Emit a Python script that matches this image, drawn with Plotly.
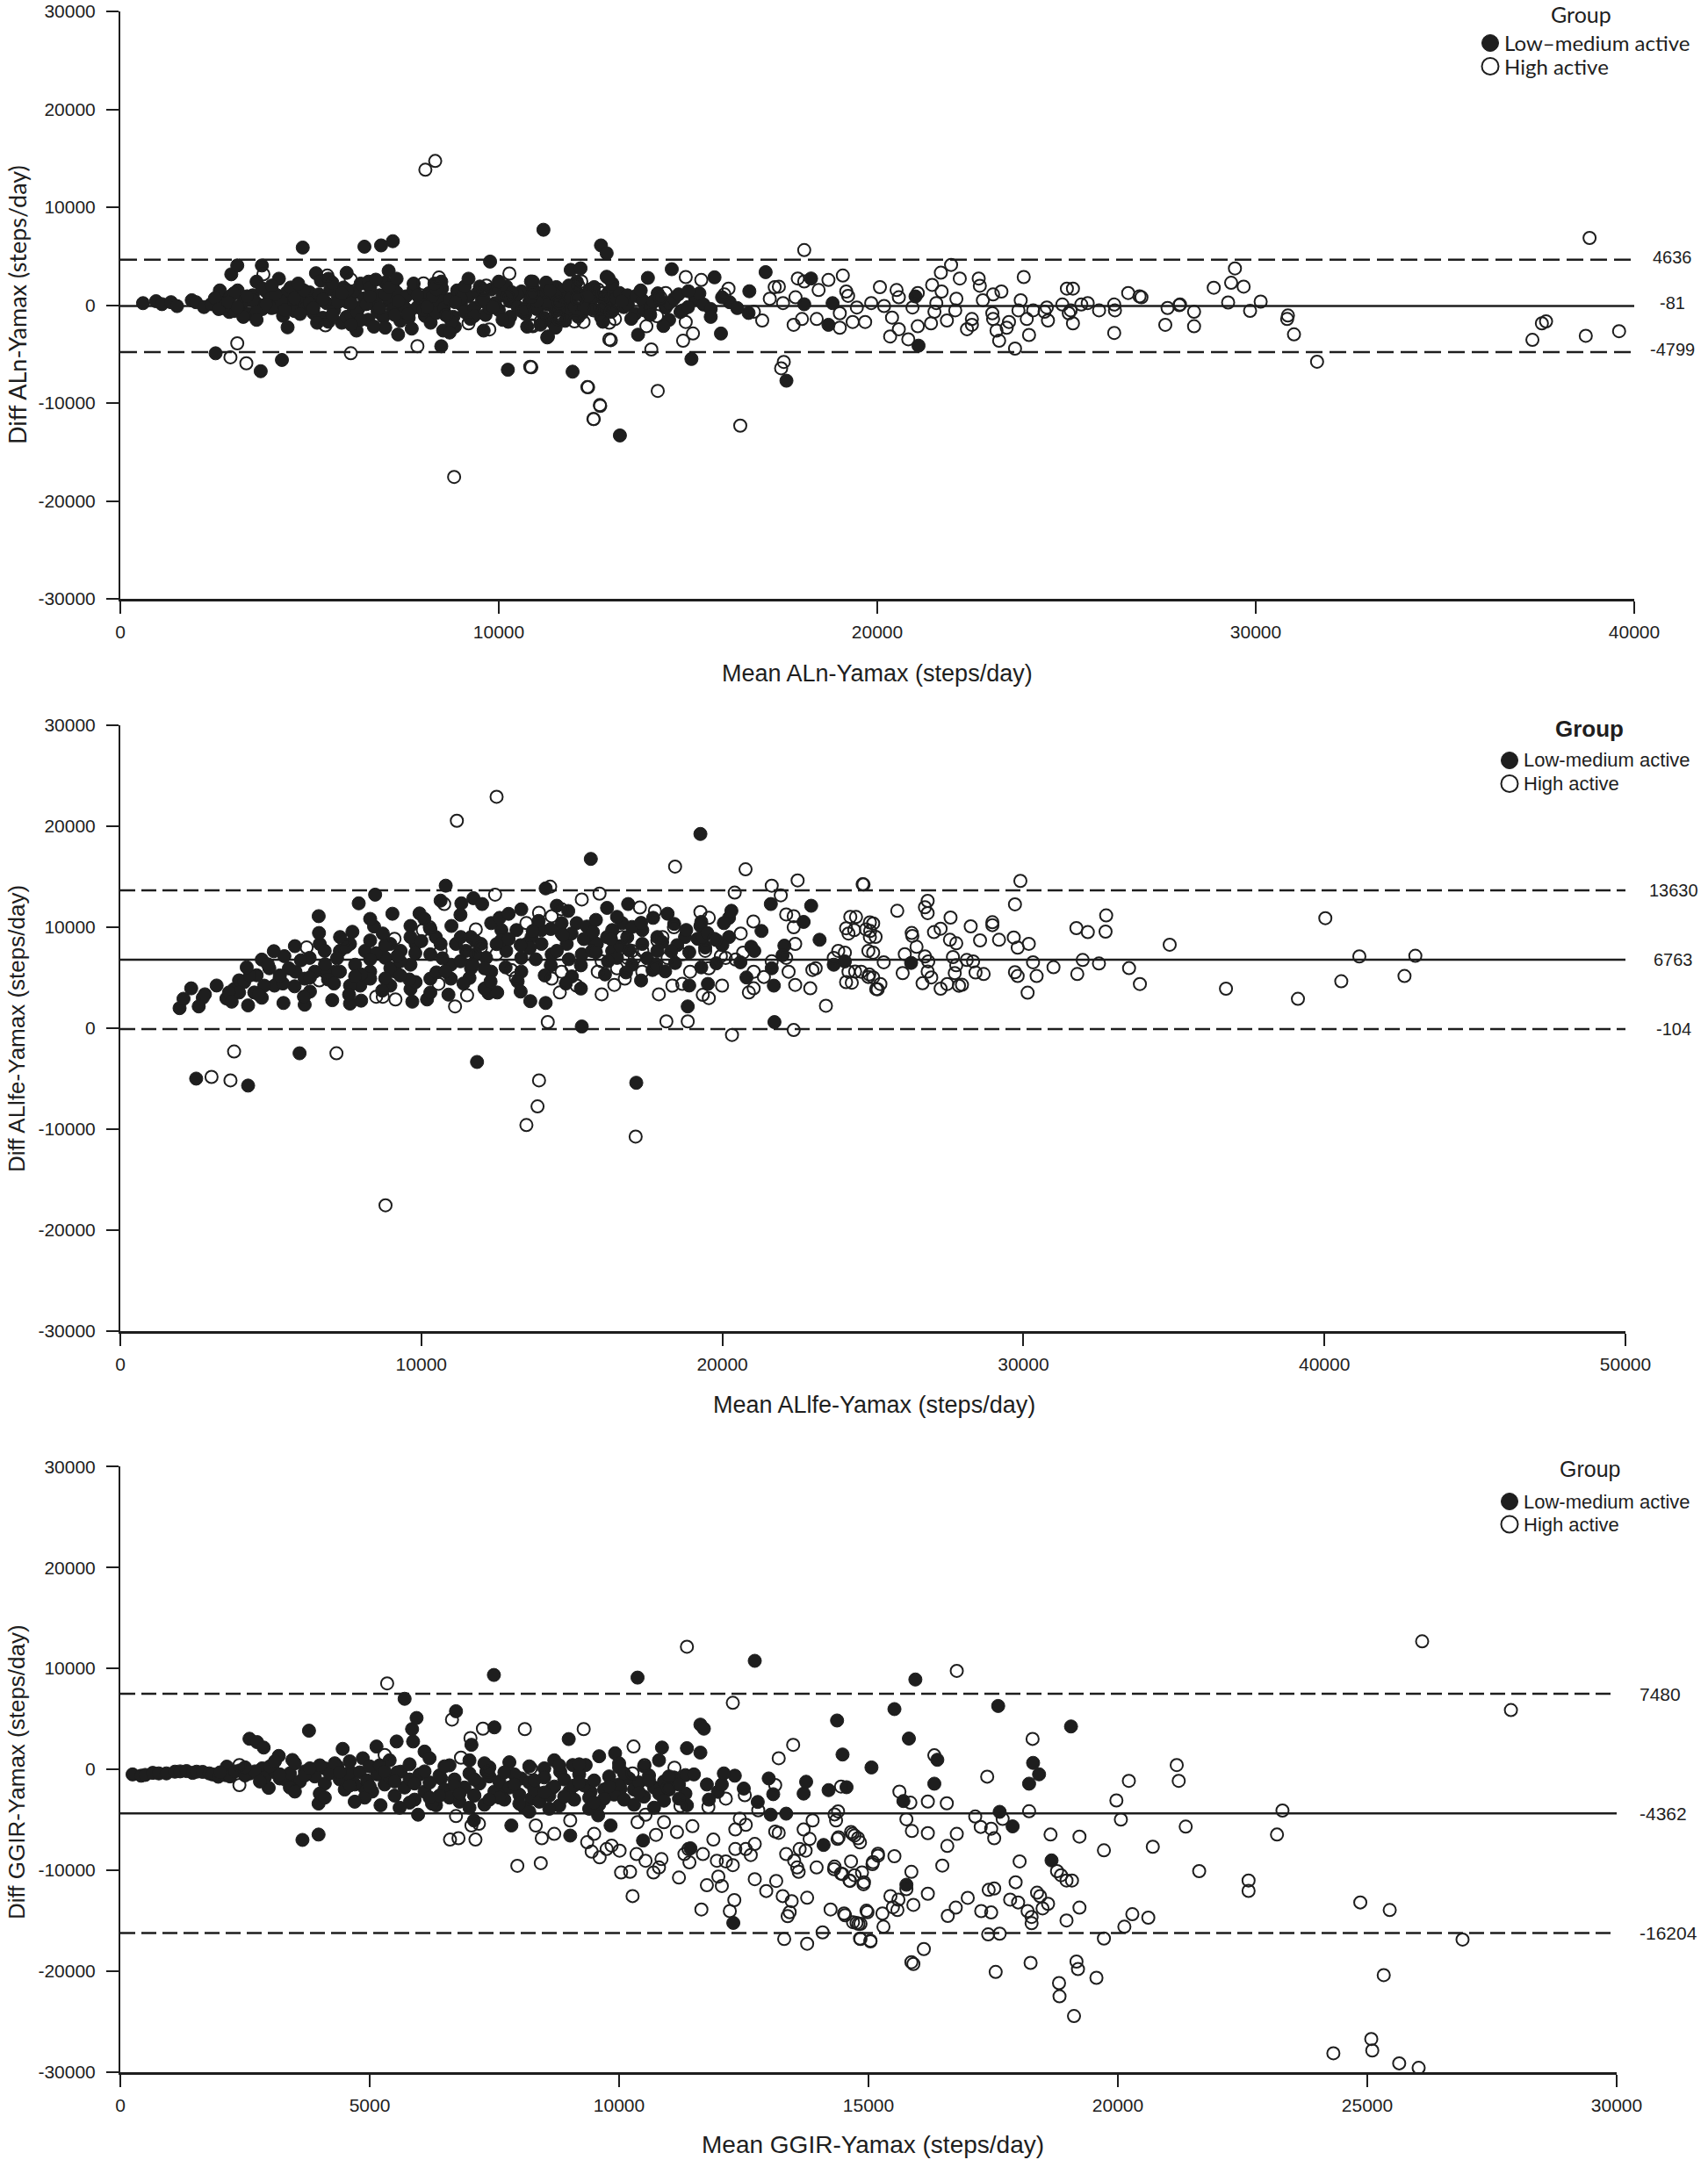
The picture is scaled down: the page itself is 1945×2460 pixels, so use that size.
import plotly.graph_objects as go

# ---------------- DATA ----------------
# Panel 1: Mean ALn-Yamax vs Diff ALn-Yamax (steps/day)
P1_LOW = [
 (600,200),(944,400),(1100,100),(1340,300),(1500,-100),(1888,500),(2000,300),(2210,-200),(2400,100),(2600,600),(2630,1500),(2700,-300),(2880,-700),(2900,900),(2932,3150),(3000,-600),(3090,4050),(3100,1500),(3240,-700),(3250,400),(3400,-900),(3500,1000),(3600,2400),(3600,200),(3740,4050),(3750,-400),(3850,1400),(3950,600),(4100,-200),(4190,2700),(4200,900),(4300,-1100),(4400,1300),(4420,-2270),(4500,300),(4600,-600),(4700,1100),(4800,500),(4900,-300),(5000,1300),(5100,-800),(5170,3260),(5200,700),(5300,2500),(5350,-1300),(5450,200),(5500,2700),(5550,1600),(5650,-500),(5750,900),(5850,-1800),(5900,1800),(5980,3300),(5980,-1200),(6000,300),(6100,-1000),(6200,1300),(6240,-2600),(6300,-300),(6350,2200),(6450,700),(6550,-1500),(6560,2400),(6600,1800),(6700,100),(6800,-700),(6850,1000),(6950,-1200),(7000,2300),(7000,-2300),(7090,3500),(7100,500),(7200,2100),(7200,-400),(7300,1300),(7340,-3000),(7400,-1600),(7450,300),(7550,900),(7620,-1300),(7650,-600),(7750,1600),(7850,-200),(7950,700),(8000,800),(8050,-1100),(8150,1200),(8200,-1800),(8250,300),(8350,-800),(8450,1000),(8480,400),(8480,2400),(8530,-2600),(8550,-300),(8700,600),(8800,-1200),(8840,-2200),(8900,1500),(9000,100),(9100,-700),(9200,900),(9350,-300),(9450,1300),(9550,400),(9650,-1000),(9800,1600),(9900,200),(9980,1800),(10000,-500),(10100,1000),(10200,1900),(10290,400),(10300,-1200),(10400,600),(10500,-200),(10600,1400),(10700,-900),(10800,300),(10850,2420),(10900,1700),(10900,2400),(11000,-400),(11070,1240),(11100,900),(11200,-1300),(11280,1700),(11300,500),(11300,60),(11400,1200),(11410,-1720),(11500,-600),(11520,1840),(11600,200),(11700,1500),(11740,650),(11800,-1000),(11850,-530),(11900,700),(11900,3600),(12000,-200),(12060,2400),(12070,1240),(12100,1100),(12200,-800),(12300,350),(12400,1600),(12500,-400),(12520,1840),(12600,900),(12700,-1200),(12740,-530),(12800,200),(12900,1300),(12960,650),(13000,-600),(13100,700),(13190,1240),(13300,-200),(13400,1000),(13410,60),(13600,-900),(13630,950),(13800,500),(13850,-530),(14000,-300),(14080,350),(14200,1200),(14410,-240),(14500,200),(14630,650),(14800,-700),(14860,-530),(15190,650),(15200,600),(15410,60),(15600,-400),(16100,300),(16600,-800),
 (2500,700),(2750,-100),(3000,1200),(3250,-1200),(3500,500),(3750,1700),(4000,-300),(4250,400),(4500,1800),(4750,-900),(5000,200),(5250,1100),(5500,-1700),(5750,300),(6000,1500),(6250,-700),(6500,100),(6750,2600),(7000,1100),(7250,-1000),(7500,-200),(7750,2200),(8000,-500),(8250,900),(8500,1700),(8750,-1700),(9000,700),(9250,-1400),(9500,1900),(9750,-300),(10000,2400),(10250,-1700),(10500,1100),(10750,-2200),(11000,400),(11250,2300),(11500,1000),(11750,-1600),(12000,1900),(12250,-300),(12500,800),(12750,-1700),(13000,2200),(13250,400),(13500,-1400),(13750,1500),(14000,-1000),(14250,600),(14500,-1500),(14750,1100),(15000,-200),(15300,1200),(15600,-1200),(15900,800),(16300,-300),
 (2600,-400),(2850,300),(3100,-200),(3350,900),(3600,-700),(3850,100),(4100,1100),(4350,-500),(4600,700),(4850,1500),(5100,-300),(5350,600),(5600,-1000),(5850,1200),(6100,200),(6350,-1500),(6600,900),(6850,-300),(7100,1800),(7350,400),(7600,-900),(7850,1000),(8100,-200),(8350,1600),(8600,-1000),(8850,300),(9100,1900),(9350,-1100),(9600,600),(9850,-200),(10100,-1500),(10350,1300),(10600,-600),(10850,800),(11100,-2000),(11350,1500),(11600,-400),(11850,2000),(12100,-1200),(12350,900),
 (5600,2300),(6100,-2000),(6700,-2200),(7300,2700),(7700,-2400),(8300,2200),(8700,-2800),(9200,2700),(9600,-2600),(5200,-1800),(4700,2200),(4000,2000),(3600,-1500),
 (2518,-4920),(3710,-6750),(4270,-5600),(4820,5880),(6450,5970),(6890,6100),(7200,6530),(8480,-4200),(9770,4450),(10240,-6600),(11180,7700),(11280,-3300),(11500,-2300),(11950,-6800),(12700,6100),(12850,5300),(12850,2900),(12160,3760),(12900,2750),(13940,2780),(14570,3670),(15700,2840),(17050,3370),(18250,2720),(16620,1420),(15010,1420),(11300,-3200),(13200,-13310),(13680,-3020),(14350,-2130),(15090,-5500),(15870,-2900),(17600,-7720),(18710,-2010),(18820,200),(21010,890),(21090,-4140),(18070,90),
]
P1_HIGH = [
 (8060,13830),(8320,14720),(8820,-17550),(2910,-5330),(3090,-3900),(3330,-5940),(3780,3150),(6090,-4920),(6090,2620),(7850,-4190),(8010,2220),(8420,2820),(8610,-1050),(9200,-1860),(9750,-2480),(9580,1600),(10280,3230),(10860,-6350),(10860,-2070),(11110,-1660),(11580,-1240),(12000,-1660),(12100,2000),(12360,-8390),(12510,-11640),(12670,-10210),(12920,-3500),(12620,1600),(12770,-230),(5420,-2070),(5470,3020),
 (9670,2000),(10240,830),(10680,-530),(10900,1200),(11270,-1020),(11590,240),(12070,630),(12500,-530),(12760,830),(12920,-1800),
 (18070,5620),(10830,-6300),(12340,-8370),(12680,-10300),(12500,-11630),(14200,-8760),(16380,-12310),(12960,-3580),(14030,-4530),(14870,-3640),(15130,-2900),(14940,-1720),(17530,-5800),(17460,-6450),(14940,2870),(15350,2570),(16070,1690),(15960,1090),(14410,1240),(14270,800),(12180,2420),(12740,1240),(12680,-240),(13070,-1420),(12960,-680),(12240,-1720),(11570,-1420),(10900,-2160),(13900,-2160),(14180,-1130),(17160,650),(17290,1840),(17400,1890),(17900,2720),(18070,2420),(18710,2570),(19090,3020),(18450,1540),(19180,1390),(19230,950),(17840,800),(17510,210),(16740,-680),(16960,-1570),(17790,-2010),(18010,-1420),(18400,-1420),(19010,-2310),(19350,-1720),(19680,-1720),(19010,-830),(19460,-240),(19840,210),(20070,1840),(20180,-90),(20390,-1270),(20510,1540),(20570,800),(20340,-3200),(20570,-2460),(20820,-3490),(20930,-240),(21070,1240),(21070,-2160),(21420,-1860),(21450,2070),(21680,3310),(21950,4110),(21700,1390),(21560,210),(21510,-680),(21840,-1570),(22060,-530),(22090,650),(22180,2720),(22500,-1420),(22500,-2010),(22370,-2460),(22680,2720),(22710,1980),(22790,500),(23060,1090),(23280,1390),(23040,-830),(23060,-1420),(23150,-2600),(23220,-3640),(23420,-2310),(23480,-1720),(23640,-4440),(23730,-530),(23790,500),(23870,2870),(23950,-1420),(24010,-3050),(24120,-530),(24480,-240),(24510,-1570),(24420,-680),(24890,60),(25010,1690),(25170,1690),(25060,-830),(25170,-1860),(25110,-530),(25390,60),(25560,210),(25860,-530),(26260,60),(26280,-530),(26260,-2840),(26630,1240),(26930,890),(27670,-290),(27610,-2010),(28000,60),
 (38820,6860),(29450,3750),(28890,1780),(29350,2280),(29680,1890),(29270,270),(30130,360),(29850,-590),(27980,0),(28370,-680),(28370,-2160),(30850,-1060),(30830,-1420),(31010,-2990),(26980,800),(37670,-1660),(37560,-1860),(37310,-3550),(38720,-3130),(39600,-2660),(31620,-5780),
]

# Panel 2: Mean ALlfe-Yamax vs Diff ALlfe-Yamax (steps/day)
P2_LOW = [
 (1969,1960),(2100,2890),(2355,3920),(2520,-5020),(2740,2990),(2810,3330),(2605,2130),(3525,2920),(3780,3850),(3945,4710),(4245,2230),(4245,-5710),(4700,6770),(4530,5220),(4950,5910),(4700,2990),(5420,2470),(5450,7110),(5790,4120),(5820,5570),(6125,2300),(5955,-2510),(6590,11070),(6625,8320),(6790,7630),(7040,2750),(7295,5570),(7630,2410),(7710,9520),(7920,12340),(7970,4190),(8465,13200),(8430,10040),(8720,9350),(9040,11310),(9640,10100),(9940,11340),(10190,2820),(9140,5570),(9640,3850),(10640,12610),(10810,14090),(11330,12340),(11730,12850),(12020,12270),(11600,4950),(11850,-3370),(12230,3440),(12520,3510),(13320,11750),(13620,2650),(14130,2470),(14130,13820),(14880,11580),(15330,140),(15630,16740),(16170,11890),(16870,12270),(17140,-5430),(18180,11310),(18850,2130),(19270,19210),(19270,10100),(20220,10900),(21610,12270),(21730,580),(22950,12100),(23230,8730),(23700,6260),(21710,4190),(20960,8040),(19520,4360),(18430,6430),(17680,5740),(16670,10380),(16170,9000),(15670,8730),(15160,10380),(14660,9350),(13660,9000),(13160,9690),(12660,9690),(12320,10380),(11650,9000),(11150,8320),(10480,9000),(9810,8320),(9310,7630),(8800,6940),(8130,7630),(7800,6260),(8300,5570),(8970,5910),(9640,6260),(10300,7290),(10980,6260),(11480,7630),(12150,6940),(12820,7630),(13320,6940),(13990,8320),(14330,7290),(14830,8320),(15330,7290),(15830,8320),(16340,7630),(16840,9000),(17340,8320),(17840,7630),(19180,8830),(18760,9000),(19430,7970),(20050,10380),(20220,9000),(21060,7630),(21640,5910),(22060,8150),(19350,9000),(16340,9690),(15500,10040),(14500,7630),(13320,5570),(12320,5570),(11650,5910),(10980,4880),(10300,4880),(9810,4540),(8970,4190),(8300,4880),(7630,4190),(7130,5570),(6790,5570),(6460,5570),(6290,6940),(6125,4880),(5290,4880),(5120,4190),(4780,4190),(4450,3510),(4115,4540),(3945,3510),(3610,3510),(8300,8660),(7630,8320),(7295,7630),(8970,8320),(9640,9000),(10640,8320),(11310,9000),(11980,8320),(12650,8660),(13490,8320),(13990,9690),(14660,10380),(14990,9350),(15670,7630),(16500,6940),(17000,6260),(17340,9690),(17840,9000),
 (4300,5200),(4900,6300),(5400,4400),(6000,6700),(6300,3600),(6900,4800),(7200,6900),(7600,3300),(8000,5300),(8500,7400),(8700,3700),(9300,6600),(9600,4800),(10000,8600),(10300,3500),(10700,6900),(11000,10100),(11400,4400),(11800,7300),(12100,5900),(12600,10900),(12900,8800),(13200,4600),(13600,7900),(13900,10600),(14300,6200),(14700,9200),(15000,5100),(15400,8800),(15800,10700),(16200,6600),(16600,8100),(17000,10000),(17500,6900),(18000,8500),(18400,10300),(18900,7500),(19500,9400),(20000,8200),(20600,6500),
 (3200,4200),(3700,2600),(4200,6000),(4600,3300),(5100,7600),(5600,5900),(6100,3100),(6600,9400),(7100,4400),(7500,8000),(8000,2700),(8300,10800),(8800,4900),(9200,7100),(9700,2600),(10100,10800),(10500,5500),(10900,3300),(11300,11200),(11700,6300),(12100,3900),(12500,8300),(12900,11300),(13300,3600),(13700,9600),(14100,5200),(14500,12100),(14900,6800),(15300,3900),(15700,9500),(16100,5300),(16500,11000),(16900,7700),(17300,4700),(17700,10900),(18100,5600),(18500,8200),(18900,4200),(19300,10500),(19800,6400),(20300,11600),(20800,5000),(21300,9600),(22000,7200),(22700,10500),
 (5300,5200),(5800,8100),(6300,5000),(6800,6300),(7300,9000),(7800,5100),(8300,6800),(8800,8200),(9300,5200),(9800,7400),(10300,9800),(10800,5600),(11300,6600),(11800,8600),(12300,4600),(12800,6000),(13300,8200),(13800,6800),(14300,9800),(14800,4400),(15300,6200),(15800,7500),(16300,8800),(16800,5500),(17300,10400),(17800,6300),(18300,7600),(18800,9700),(19300,6000),(19800,8700),
 (24070,6590),(26270,6440),
]
P2_HIGH = [
 (11180,20520),(12500,22890),(8810,-17560),(3780,-2340),(3030,-4850),(3660,-5190),(7180,-2510),(13910,-5190),(13860,-7770),(13490,-9620),(17120,-10760),(18430,15980),(20770,15710),(22500,14610),(21640,14090),(20410,13400),(21940,13130),(24660,14230),(15920,13300),(12450,13200),(10760,12270),(14280,13990),(15330,12720),(17260,11930),(17760,11580),(19270,11480),(19550,10900),(22120,11240),(22370,11070),(24250,11000),(24900,10450),(18390,9970),(22370,9970),(20610,9350),(21030,10550),(24110,9870),(24770,9760),(24190,9350),(24900,9000),(22420,8320),(19730,8830),(17840,8660),(10280,9970),(11810,9760),(9110,8830),(7430,8660),(6190,7970),(6610,4710),(8500,3090),(8720,3090),(9140,2820),(11120,2130),(11520,3230),(10570,4370),(11540,7350),(13140,4950),(14600,3510),(15160,4190),(14200,580),(15990,3330),(15860,5570),(16410,4260),(16500,5910),(17000,7630),(17890,3330),(18140,650),(18340,4190),(18670,4360),(18850,650),(19350,3270),(19550,2960),(19990,4190),(20320,-690),(19550,5910),(19430,7630),(20110,6940),(20440,6770),(20880,3510),(21040,3920),(21380,5050),(21640,6600),(22200,5570),(22420,4260),(22370,-210),(22920,3920),(23100,5910),(23440,2200),(23850,7630),(24110,4540),(24190,5570),(24610,5570),(24850,5050),(25110,3850),(24850,7630),(23700,6940),(22990,5740),(22120,6940),(21040,5570),(20690,7460),(19950,7110),(18930,5570),(18670,7290),(17760,5910),(17340,5570),(17090,6940),(16760,4880),(16670,9000),(16840,6940),(17340,7630),(18010,9000),(18180,6940),(15990,6600),(14990,6080),(14660,5570),(14330,4880),(13910,11410),(14330,11070),(14660,11750),(13490,10380),(11980,7970),(11480,8320),(12990,5740),(12490,7290),(10640,7630),(10050,9690),
 (24690,14210),(29900,14560),(29720,12240),(25810,11600),(26820,12580),(26730,11950),(26820,11370),(27580,10930),(24440,10990),(25010,10350),(24380,9690),(24910,9600),(25090,9020),(26290,9400),(26310,9110),(27030,9490),(27250,9830),(27560,8730),(27770,8380),(28250,10060),(28560,8670),(28970,10470),(28970,10180),(29190,8730),(29680,8960),(29810,7950),(30180,8330),(31760,9890),(32140,9490),(32750,11140),(32730,9540),(34860,8240),(40030,10870),(41160,7080),(43020,7140),(42660,5140),(40560,4620),(39120,2880),(36730,3890),(33870,4350),(33510,5920),(32510,6380),(31970,6730),(31790,5340),(31000,6010),(30440,5140),(30320,6500),(30140,3490),(29810,5140),(29720,5520),(28680,5340),(28410,5490),(27960,4270),(27860,4180),(27470,4350),(27250,3890),(27720,5430),(27770,6210),(27660,7020),(28120,6730),(28330,6590),(26940,5000),(26820,5580),(26650,4420),(26730,7080),(26840,6590),(26450,8030),(26060,7310),(25990,5430),(25360,6500),(25250,4350),(25160,3830),(25010,5000),(24880,5290),(24410,5580),(24300,4480),(25010,7460),(24070,7460),
]

# Panel 3: Mean GGIR-Yamax vs Diff GGIR-Yamax (steps/day)
P3_LOW = [
 (246,-500),(418,-630),(500,-550),(650,-350),(772,-400),(924,-400),(1095,-230),(1200,-200),(1328,-170),(1450,-350),(1530,-230),(1650,-250),(1783,-400),(1850,-500),(1964,-730),(2136,270),(2106,-570),(2200,-700),(2400,-100),(2600,-400),(2590,3030),(2742,2700),(2874,2160),(2843,100),(2975,-1830),(3177,1330),(3197,-900),(3450,930),(3500,-1500),(3652,-6990),(3783,3830),(3975,-3390),(3975,-6460),(3800,-230),(4100,100),(4357,270),(4458,2030),(4610,-230),(4862,1100),(4893,-1830),(5136,2260),(5217,-3560),(5540,2760),(5620,-230),(5700,6990),(5850,3990),(5940,5090),(5870,2760),(6100,1760),(5970,-4490),(6330,-3560),(6430,-900),(6730,5760),(7040,2430),(7090,-2560),(7090,-5060),(7490,9350),(7500,4160),(7340,-230),(7640,-2230),(7840,-5560),(8040,-900),(8240,-2900),(8500,100),(8650,-1900),(8990,3000),(9020,-6560),(8820,-230),(9070,430),(9330,430),(9430,-2230),(9580,-4560),(9830,-5560),(9920,1600),(10030,-1900),(10370,9090),(10480,-7050),(10860,2160),(11330,-570),(11330,-2400),(11360,2100),(11360,-3560),(11430,-7820),(11630,1660),(11630,4430),(11700,4030),(11760,-1500),(11980,-2230),(12060,-1500),(12290,-15210),(12320,-630),(12720,10750),(12780,-3230),(13040,-4490),(13090,-2460),(13350,-4390),(13700,-2400),(13750,-1230),(14100,-7490),(14200,-2060),
 (2000,-300),(2300,-200),(2500,-600),(2700,-200),(2900,-800),(3100,-300),(3300,-1000),(3400,-400),(3600,-1200),(3700,-200),(3900,-700),(4100,-1400),(4200,-400),(4400,-1000),(4500,-2000),(4600,-600),(4700,-1500),(4800,-300),(4950,-1100),(5050,-2200),(5150,-500),(5300,-1500),(5400,-800),(5500,-2600),(5550,-300),(5700,-1800),(5800,-1000),(5900,-3000),(6000,-500),(6100,-2200),(6200,-1300),(6250,-3400),(6400,-600),(6500,-2000),(6600,-2800),(6700,-1000),(6800,-3200),(6900,-1800),(7000,-400),(7100,-2600),(7200,-1400),(7300,-3500),(7400,-700),(7500,-2200),(7600,-1200),(7700,-3000),(7800,-1800),(7900,-500),(8000,-2500),(8100,-3800),(8200,-1300),(8300,-2000),(8400,-3200),(8500,-800),(8600,-2600),(8700,-1700),(8800,-3600),(8900,-1000),(9000,-2200),(9100,-3000),(9200,-500),(9300,-1600),(9400,-2800),(9500,-1100),(9600,-3500),(9700,-2000),(9800,-700),(9900,-2500),(10000,-1500),(10100,-3000),(10200,-900),(10300,-2000),(10400,-1300),(10500,-2700),(10600,-600),(10700,-1800),(10800,-2400),(10900,-1200),(11000,-2000),(11100,-800),(11200,-2900),
 (3000,300),(3500,600),(4000,400),(4600,800),(5000,300),(5400,900),(5800,500),(6200,1100),(6600,400),(7000,900),(7400,200),(7800,700),(8200,300),(8700,900),(9200,500),(9600,1300),(10000,600),(10500,300),(10800,900),
 (2500,200),(2800,-1200),(3100,800),(3400,-1800),(3700,-600),(4000,-2400),(4300,600),(4600,-1600),(4900,-2800),(5200,400),(5500,-1200),(5800,-3300),(6100,-200),(6400,-2600),(6700,-1600),(7000,-3800),(7300,600),(7600,-2800),(7900,-1500),(8200,-4200),(8500,-2300),(8800,400),(9100,-1600),(9400,-3900),(9700,-2900),(10000,200),(10300,-3500),(10600,-1100),(10900,-3100),(11200,-1500),(11500,-500),(11800,-3000),(12100,-400),(12500,-1900),(13000,-900),
 (3200,-500),(3500,-2200),(3800,100),(4100,-2800),(4400,-300),(4700,-3200),(5000,-1700),(5300,-200),(5600,-3800),(5900,-1400),(6200,-2800),(6500,300),(6800,-2400),(7100,-1000),(7400,-3000),(7700,-300),(8000,-3400),(8300,-1100),(8600,-3900),(8900,-2700),(9200,-1300),(9500,-3300),(9800,-1700),(10100,-400),(10400,-2300),(10700,-3800),(11000,-700),
 (14370,4840),(14480,1470),(14560,-1770),(15060,190),(15520,5970),(15940,8900),(15810,3050),(16380,950),(16320,-1420),(15700,-3140),(15760,-11430),(17600,6280),(17630,-4210),(17890,-5650),(18300,640),(18420,-490),(18220,-1420),(19060,4250),(18670,-9020),
]
P3_HIGH = [
 (2388,430),(2388,-1560),(5350,8520),(5300,1430),(6650,4930),(6780,-6820),(6610,-6960),(7120,-6960),(6830,1160),(7020,3100),(7370,-230),(6730,-4630),(7040,-5560),(7190,-5390),(7270,4030),(8110,3990),(8230,100),(7960,-9550),(8430,-9290),(8450,-6820),(8330,-5560),(8700,-6390),(9020,-5060),(9290,3990),(9360,-7220),(9450,-8150),(9500,-6390),(9610,-8720),(9750,-7890),(9850,-7550),(10010,-8050),(10040,-10220),(10220,-10150),(10290,2260),(10270,-12550),(10350,-8390),(10530,-9050),(10510,430),(10270,-400),(10530,-4490),(10370,-5230),(10690,-10220),(10800,-9720),(10850,-8890),(10740,-6490),(10900,-5230),(10980,-1830),(11110,170),(11200,-10720),(11160,-6220),(11230,-3630),(11310,-8390),(11390,-7890),(11360,12150),(11410,-9220),(11470,-5630),(11650,-13880),(11680,-8390),(11760,-11480),(11790,-3730),(11890,-6960),(11960,-9050),(11990,-10620),(12060,-11550),(12140,-9120),(12140,-2900),(12220,-14040),(12280,-9490),(12310,-12950),(12280,6590),(12330,-5960),(12330,-7890),(12420,-4890),(12520,-2560),(12540,-5490),(12540,-7890),(12640,-8490),(12720,-10880),(12720,-7390),(12790,-4060),(12950,-12050),(13150,-11050),(13200,1100),(13130,-1560),(13280,-12550),(13310,-16810),(13130,-6160),(13200,-6290),(13350,-8390),(13380,-14540),(13420,-14150),(13460,-13050),(13490,2430),(13510,-9050),(13570,-9720),(13600,-10150),(13620,-7890),(13700,-5960),(13740,-8050),(13770,-12720),(13770,-17270),(13820,-6890),(13880,-5060),(13960,-9720),(14080,-16150),(14240,-13880),(14310,-9890),(14350,-5060),(14380,-6890),(14390,-4160),(14480,-10380),(14530,-14450),(14630,-11050),(14680,-6390),(14760,-15210),(14790,-6820),(14840,-16810),(14840,-15310),(14900,-11380),(14980,-14150),(15040,-17040),(15080,-9390),(15190,-8550),
 (26100,12680),(16770,9760),(27880,5870),(18290,3020),(17380,-720),(16320,1390),(15620,-2200),(15840,-3300),(16190,-3190),(16570,-3360),(17140,-4670),(17250,-5700),(17460,-5880),(17520,-6830),(17690,-4910),(18220,-4150),(15760,-4940),(15870,-6110),(16190,-6320),(16770,-6390),(16580,-7590),(14400,-6730),(14650,-6210),(14720,-6550),(14830,-7240),(14650,-9120),(14320,-9630),(14450,-10320),(14620,-11010),(14720,-10490),(14870,-10210),(14910,-11180),(15090,-9190),(15190,-8360),(15520,-8600),(15860,-10150),(15760,-11870),(15440,-12560),(15600,-12910),(15490,-13660),(15900,-13420),(15580,-13940),(15280,-14280),(14960,-14000),(14510,-14280),(14690,-15140),(14800,-15310),(15300,-15590),(14830,-16760),(15040,-16970),(16110,-17800),(15860,-19100),(15900,-19280),(16190,-12320),(16480,-9530),(16590,-14520),(16750,-13700),(16990,-12730),(17260,-14040),(17460,-14180),(17400,-16350),(17630,-16280),(17550,-20070),(17410,-11940),(17520,-11800),(17840,-12900),(17950,-11180),(18000,-13180),(18030,-9120),(18190,-14040),(18270,-14620),(18270,-15240),(18250,-19170),(18380,-12220),(18440,-12560),(18490,-13770),(18600,-13320),(18650,-6460),(18780,-10080),(18860,-10490),(18970,-11010),(19080,-11010),(18970,-14970),(19230,-6660),(19230,-13700),(18820,-21170),(18830,-22480),(19120,-24440),(19170,-19040),(19200,-19790),(19570,-20650),(19720,-16760),(19720,-8020),(19970,-3080),(20060,-4970),(20220,-1140),(20130,-15590),(20290,-14350),(20610,-14690),(20700,-7670),(21180,430),(21220,-1140),(21360,-5670),(21630,-10080),(22620,-11010),(22620,-12040),(23190,-6460),(23300,-4080),(24860,-13180),(25450,-13940),(26910,-16860),(25330,-20380),(25080,-26710),(25100,-27850),(24320,-28120),(25640,-29120),(26030,-29570),(14450,-1700),(14320,-4460),
]

# Limits of agreement: upper, mean bias, lower
P1_LINES = [4636, -81, -4799]
P2_LINES = [13630, 6763, -104]
P3_LINES = [7480, -4362, -16204]

LEGEND_TITLE = "Group"
GROUPS = ["Low-medium active", "High active"]
GROUPS_P1 = ["Low\u2013medium active", "High active"]

Y_TICKS = [-30000, -20000, -10000, 0, 10000, 20000, 30000]
Y_TICKTEXT = ["-30000", "-20000", "-10000", "0", "10000", "20000", "30000"]
P1_XTICKS = [0, 10000, 20000, 30000, 40000]
P2_XTICKS = [0, 10000, 20000, 30000, 40000, 50000]
P3_XTICKS = [0, 5000, 10000, 15000, 20000, 25000, 30000]

P1_XTITLE = "Mean ALn-Yamax (steps/day)"
P1_YTITLE = "Diff ALn-Yamax (steps/day)"
P2_XTITLE = "Mean ALlfe-Yamax (steps/day)"
P2_YTITLE = "Diff ALlfe-Yamax (steps/day)"
P3_XTITLE = "Mean GGIR-Yamax (steps/day)"
P3_YTITLE = "Diff GGIR-Yamax (steps/day)"

# ---------------- LAYOUT HELPERS ----------------
W, H = 1945, 2460
ML, MR, MT, MB = 137, 84, 6, 100
PW = W - ML - MR
PH = H - MT - MB


def fx(px):
    return (px - ML) / PW


def fy(py):
    return (H - MB - py) / PH


INK = "#1e1e1e"
ARIAL = "Liberation Sans, Arial, sans-serif"
MYRIAD = "Lato, Noto Sans, sans-serif"

fig = go.Figure()

panels = [
    dict(data=(P1_LOW, P1_HIGH), xr=40000, xt=P1_XTICKS, lines=P1_LINES, dash="19px,8px",
         xdom=[0, fx(1861)], ydom=[fy(682), fy(13)], names=GROUPS_P1),
    dict(data=(P2_LOW, P2_HIGH), xr=50000, xt=P2_XTICKS, lines=P2_LINES, dash="17px,7px",
         xdom=[0, fx(1851)], ydom=[fy(1515.7), fy(825.7)], names=GROUPS),
    dict(data=(P3_LOW, P3_HIGH), xr=30000, xt=P3_XTICKS, lines=P3_LINES, dash="17px,7px",
         xdom=[0, fx(1841)], ydom=[fy(2360), fy(1670.2)], names=GROUPS),
]

shapes = []
annotations = []
layout_axes = {}

for i, p in enumerate(panels, start=1):
    sfx = "" if i == 1 else str(i)
    xa, ya = "x" + sfx, "y" + sfx
    low, high = p["data"]
    fig.add_trace(go.Scatter(
        x=[v[0] for v in low], y=[v[1] for v in low], mode="markers",
        name=p["names"][0], xaxis=xa, yaxis=ya, showlegend=False,
        marker=dict(symbol="circle", size=15, color=INK, line=dict(width=1, color=INK)),
    ))
    fig.add_trace(go.Scatter(
        x=[v[0] for v in high], y=[v[1] for v in high], mode="markers",
        name=p["names"][1], xaxis=xa, yaxis=ya, showlegend=False,
        marker=dict(symbol="circle-open", size=14, color=INK, line=dict(width=2, color=INK)),
    ))
    layout_axes["xaxis" + sfx] = dict(
        domain=p["xdom"], anchor=ya, range=[0, p["xr"]], tickvals=p["xt"],
        ticktext=[str(t) for t in p["xt"]], showline=True, linewidth=3, linecolor=INK,
        ticks="outside", ticklen=14, tickwidth=2, tickcolor=INK, showgrid=False, zeroline=False,
        tickfont=dict(family=ARIAL, size=21, color=INK), automargin=False, ticklabelstandoff=3,
        ticklabeloverflow="allow",
    )
    layout_axes["yaxis" + sfx] = dict(
        domain=p["ydom"], anchor=xa, range=[-30000, 30000], tickvals=Y_TICKS, ticktext=Y_TICKTEXT,
        showline=True, linewidth=2, linecolor=INK, ticks="outside", ticklen=14, tickwidth=2,
        tickcolor=INK, showgrid=False, zeroline=False,
        tickfont=dict(family=ARIAL, size=21, color=INK), automargin=False, ticklabelstandoff=8,
        ticklabeloverflow="allow",
    )
    for j, val in enumerate(p["lines"]):
        shapes.append(dict(
            type="line", xref=xa, yref=ya, x0=0, x1=p["xr"], y0=val, y1=val, layer="below",
            line=dict(color=INK, width=2.5, dash=("solid" if j == 1 else p["dash"])),
        ))

# limits-of-agreement labels
for val in P1_LINES:
    annotations.append(dict(text=str(val), xref="paper", yref="y", x=fx(1904), y=val, xanchor="center",
                            yanchor="middle", yshift=3, showarrow=False,
                            font=dict(family=ARIAL, size=20, color=INK)))
for val in P2_LINES:
    annotations.append(dict(text=str(val), xref="paper", yref="y2", x=fx(1906), y=val, xanchor="center",
                            yanchor="middle", showarrow=False,
                            font=dict(family=ARIAL, size=20, color=INK)))
for val in P3_LINES:
    annotations.append(dict(text=str(val), xref="paper", yref="y3", x=fx(1865), y=val, xanchor="left",
                            yanchor="middle", showarrow=False,
                            font=dict(family=ARIAL, size=21, color=INK)))


# axis titles
def title_ann(text, x, y, font, angle=0):
    return dict(text=text, xref="paper", yref="paper", x=fx(x), y=fy(y), textangle=angle,
                xanchor="center", yanchor="middle", showarrow=False, font=font)


annotations += [
    title_ann(P1_YTITLE, 20, 347, dict(family=MYRIAD, size=27, color=INK), -90),
    title_ann(P1_XTITLE, 999, 767, dict(family=ARIAL, size=27, color=INK)),
    title_ann(P2_YTITLE, 19, 1172, dict(family=ARIAL, size=26, color=INK), -90),
    title_ann(P2_XTITLE, 995, 1600, dict(family=ARIAL, size=27, color=INK)),
    title_ann(P3_YTITLE, 19, 2018, dict(family=ARIAL, size=26, color=INK), -90),
    title_ann(P3_XTITLE, 994, 2442, dict(family=ARIAL, size=28, color=INK)),
]

# group keys (legend) for each panel: title, two symbols, two labels
legends = [
    dict(title=LEGEND_TITLE, tx=1800, ty=16, tfont=dict(family=MYRIAD, size=25, color=INK),
         mx=1697, my=(49, 75.5), lx=1711, names=GROUPS_P1, lfont=dict(family=MYRIAD, size=24, color=INK)),
    dict(title="<b>" + LEGEND_TITLE + "</b>", tx=1810, ty=830, tfont=dict(family=ARIAL, size=26, color=INK),
         mx=1719, my=(866, 892.5), lx=1733, names=GROUPS, lfont=dict(family=ARIAL, size=22, color=INK)),
    dict(title=LEGEND_TITLE, tx=1810, ty=1673, tfont=dict(family=ARIAL, size=25, color=INK),
         mx=1719, my=(1710, 1736), lx=1733, names=GROUPS, lfont=dict(family=ARIAL, size=22, color=INK)),
]
for lg in legends:
    annotations.append(dict(text=lg["title"], xref="paper", yref="paper", x=fx(lg["tx"]), y=fy(lg["ty"]),
                            xanchor="center", yanchor="middle", showarrow=False, font=lg["tfont"]))
    for k, (name, my) in enumerate(zip(lg["names"], lg["my"])):
        annotations.append(dict(text=name, xref="paper", yref="paper", x=fx(lg["lx"]), y=fy(my),
                                xanchor="left", yanchor="middle", showarrow=False, font=lg["lfont"]))
        shapes.append(dict(
            type="circle", xref="paper", yref="paper", xsizemode="pixel", ysizemode="pixel",
            xanchor=fx(lg["mx"]), yanchor=fy(my), x0=-9.5, x1=9.5, y0=-9.5, y1=9.5,
            fillcolor=(INK if k == 0 else "white"), line=dict(color=INK, width=(1 if k == 0 else 2)),
        ))

fig.update_layout(
    width=W, height=H, margin=dict(l=ML, r=MR, t=MT, b=MB),
    paper_bgcolor="white", plot_bgcolor="white", showlegend=False,
    shapes=shapes, annotations=annotations,
    **layout_axes,
)

fig.write_html("out.html", config={"displayModeBar": False},
               post_script="document.body.style.margin='0px';")
